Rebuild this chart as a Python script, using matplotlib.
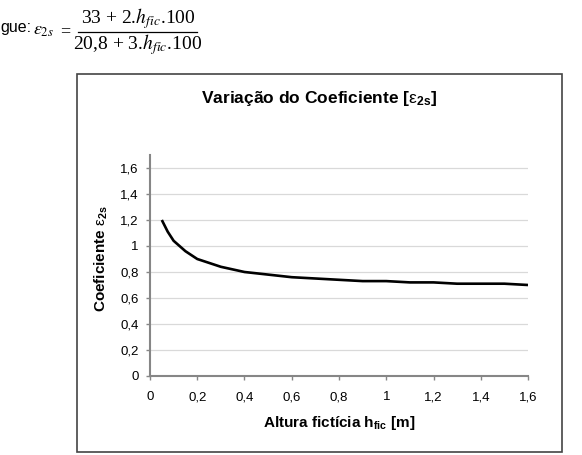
import matplotlib
matplotlib.use("Agg")
import matplotlib.pyplot as plt
from matplotlib.patches import Rectangle
from matplotlib.lines import Line2D

# data (h_fic in m, coefficient eps_2s)
h_fic = [0.05, 0.075, 0.1, 0.125, 0.15, 0.2, 0.25, 0.3, 0.35, 0.4, 0.45, 0.5,
         0.6, 0.7, 0.8, 0.9, 1.0, 1.1, 1.2, 1.3, 1.4, 1.5, 1.6]
eps_2s = [1.20, 1.11, 1.04, 1.00, 0.96, 0.90, 0.87, 0.84, 0.82, 0.80, 0.79, 0.78,
          0.76, 0.75, 0.74, 0.73, 0.73, 0.72, 0.72, 0.71, 0.71, 0.71, 0.70]

x_ticks = [0, 0.2, 0.4, 0.6, 0.8, 1.0, 1.2, 1.4, 1.6]
x_labels = ['0', '0,2', '0,4', '0,6', '0,8', '1', '1,2', '1,4', '1,6']
y_ticks = [0, 0.2, 0.4, 0.6, 0.8, 1.0, 1.2, 1.4, 1.6]
y_labels = ['0', '0,2', '0,4', '0,6', '0,8', '1', '1,2', '1,4', '1,6']

plt.rcParams['font.family'] = ['Liberation Sans', 'DejaVu Sans']
plt.rcParams['mathtext.fontset'] = 'custom'
plt.rcParams['mathtext.rm'] = 'Liberation Sans'
plt.rcParams['mathtext.it'] = 'Liberation Sans:italic'
plt.rcParams['mathtext.bf'] = 'Liberation Sans:bold'

W, H = 582, 455
fig = plt.figure(figsize=(W / 100, H / 100), dpi=100)

# formula above the chart (page text)
serif = dict(family='Liberation Serif', math_fontfamily='stix')
fig.text(0 / W, 1 - 32 / H, 'gue:', fontsize=11.5, ha='left', va='baseline')
fig.text(33 / W, 1 - 35 / H, r'$\varepsilon_{2s}$', fontsize=13,
         ha='left', va='baseline', **serif)
fig.text(60 / W, 1 - 36 / H, '=', fontsize=13, ha='left', va='baseline',
         **serif)
fig.text(138 / W, 1 - 23 / H, r'33 + 2.$h_{fic}$.100',
         fontsize=14, ha='center', va='baseline', **serif)
fig.text(138 / W, 1 - 49 / H, r'20,8 + 3.$h_{fic}$.100',
         fontsize=14, ha='center', va='baseline', **serif)
fig.add_artist(Line2D([78 / W, 197 / W], [1 - 32 / H, 1 - 32 / H],
                      color='black', linewidth=0.9))

# chart frame
fig.add_artist(Rectangle((77 / W, 1 - 452 / H), 485 / W, 378 / H,
                         fill=False, edgecolor='#444444', linewidth=1.2))

ax = fig.add_axes([150 / W, 1 - 376 / H, 378 / W, 221 / H])
ax.plot(h_fic, eps_2s, color='black', linewidth=1.9,
        solid_joinstyle='round', solid_capstyle='butt')

ax.set_xlim(0, 1.6)
ax.set_ylim(0, 1.7)
ax.set_xticks(x_ticks)
ax.set_xticklabels(x_labels)
ax.set_yticks(y_ticks)
ax.set_yticklabels(y_labels)
ax.tick_params(axis='both', labelsize=9.5, length=3, width=1,
               color='#868686', labelcolor='black')
ax.tick_params(axis='x', pad=8)
ax.tick_params(axis='y', pad=5)

ax.grid(axis='y', color='#d9d9d9', linewidth=0.9)
ax.set_axisbelow(True)
for side in ['top', 'right']:
    ax.spines[side].set_visible(False)
for side in ['left', 'bottom']:
    ax.spines[side].set_color('#868686')
    ax.spines[side].set_linewidth(1.5)

fig.text(319 / W, 1 - 99 / H,
         r'Variação do Coeficiente [$\mathrm{\varepsilon}_{\mathbf{2s}}$]',
         fontsize=12.5, fontweight='bold', ha='center', va='center')
fig.text(339 / W, 1 - 423 / H,
         r'Altura fictícia $\mathbf{h}_{\mathbf{fic}}$ [m]',
         fontsize=11, fontweight='bold', ha='center', va='center')
fig.text(101 / W, 1 - 259 / H,
         r'Coeficiente $\mathrm{\varepsilon}_{\mathbf{2s}}$',
         fontsize=11, fontweight='bold', ha='center', va='center',
         rotation=90)

fig.savefig('out.png', dpi=100)
